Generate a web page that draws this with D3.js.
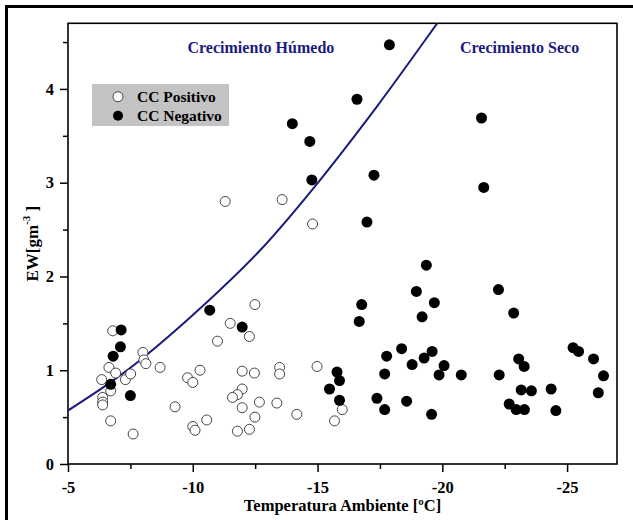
<!DOCTYPE html>
<html>
<head>
<meta charset="utf-8">
<script src="https://cdn.jsdelivr.net/npm/d3@7"></script>
<style>
  body { margin: 0; background: #fff; }
  svg { display: block; font-family: "Liberation Serif", "Times New Roman", serif; }
</style>
</head>
<body>
<div id="grafico"></div>
<script>
// Datos
const posTemp = [-6.79, -6.64, -6.91, -6.35, -6.71, -6.39, -6.39, -6.39, -6.71, -7.61,
  -7.30, -7.51, -8.00, -8.04, -8.12, -8.69, -9.29, -9.79, -10.00, -10.29,
  -10.00, -10.09, -10.56, -12.49, -11.50, -12.27, -10.99, -11.98, -12.47, -13.48,
  -13.48, -14.98, -11.98, -11.79, -11.59, -11.98, -12.67, -13.37, -12.49, -14.17,
  -11.79, -12.27, -15.99, -15.68, -11.30, -13.58, -14.80];
const posEW = [1.42, 1.03, 0.97, 0.90, 0.78, 0.71, 0.66, 0.63, 0.46, 0.32,
  0.90, 0.96, 1.19, 1.11, 1.07, 1.03, 0.61, 0.92, 0.87, 1.00,
  0.40, 0.36, 0.47, 1.70, 1.50, 1.36, 1.31, 0.99, 0.97, 1.03,
  0.96, 1.04, 0.80, 0.74, 0.71, 0.60, 0.66, 0.65, 0.50, 0.53,
  0.35, 0.37, 0.58, 0.46, 2.80, 2.82, 2.56];

const negTemp = [-7.13, -7.10, -6.81, -6.71, -7.50, -10.68, -11.98, -15.78, -15.88, -15.48,
  -15.88, -17.88, -16.58, -13.99, -14.69, -14.77, -17.26, -16.98, -19.36, -18.96,
  -19.68, -19.19, -16.77, -16.67, -18.37, -17.77, -19.59, -19.27, -18.79, -20.07,
  -17.69, -19.87, -20.76, -17.38, -17.69, -18.57, -19.57, -21.57, -21.66, -22.25,
  -22.86, -25.24, -25.46, -26.06, -26.46, -26.25, -23.06, -23.28, -22.28, -23.16,
  -23.57, -24.36, -22.68, -22.96, -23.29, -24.55];
const negEW = [1.43, 1.25, 1.15, 0.85, 0.73, 1.64, 1.46, 0.98, 0.89, 0.80,
  0.68, 4.47, 3.89, 3.63, 3.44, 3.03, 3.08, 2.58, 2.12, 1.84,
  1.72, 1.57, 1.70, 1.52, 1.23, 1.15, 1.20, 1.13, 1.06, 1.05,
  0.96, 0.95, 0.95, 0.70, 0.58, 0.67, 0.53, 3.69, 2.95, 1.86,
  1.61, 1.24, 1.20, 1.12, 0.94, 0.76, 1.12, 1.04, 0.95, 0.79,
  0.78, 0.80, 0.64, 0.58, 0.58, 0.57];

// curva de separacion (puntos leidos sobre la linea)
const curvaTemp = [-5, -6.7, -8, -10.3, -12.7, -14.8, -17.4, -19.85, -20.2];
const curvaEW = [0.57, 0.87, 1.13, 1.66, 2.28, 2.93, 3.82, 4.72, 4.85];

const ticksX = [-5, -10, -15, -20, -25];
const ticksXMenores = [-7.5, -12.5, -17.5, -22.5];
const ticksY = [0, 1, 2, 3, 4];
const ticksYMenores = [0.5, 1.5, 2.5, 3.5, 4.5];

const series = ["CC Positivo", "CC Negativo"];
const regiones = ["Crecimiento Húmedo", "Crecimiento Seco"];

// Dimensiones
const ancho = 633;
const alto = 520;
const margen = { superior: 23.3, derecho: 16, inferior: 56, izquierdo: 68 };
const azul = "#1b1b7e";

const svg = d3.select("#grafico")
  .append("svg")
  .attr("width", ancho)
  .attr("height", alto);

// marco exterior
svg.append("line").attr("x1", 5).attr("x2", ancho).attr("y1", 6.5).attr("y2", 6.5)
  .attr("stroke", "#000").attr("stroke-width", 3);
svg.append("line").attr("x1", 6.5).attr("x2", 6.5).attr("y1", 5).attr("y2", alto)
  .attr("stroke", "#000").attr("stroke-width", 3);

const escalaX = d3.scaleLinear()
  .domain([-5, -27])
  .range([margen.izquierdo, ancho - margen.derecho]);

const escalaY = d3.scaleLinear()
  .domain([0, 4.7])
  .range([alto - margen.inferior, margen.superior]);

const x0 = escalaX.range()[0], x1 = escalaX.range()[1];
const y0 = escalaY.range()[0], y1 = escalaY.range()[1];

svg.append("clipPath").attr("id", "recorte")
  .append("rect")
  .attr("x", x0).attr("y", y1)
  .attr("width", x1 - x0).attr("height", y0 - y1);

// Ejes
const formato = d => String(d);

function estiloEje(g) {
  g.select(".domain").remove();
  g.selectAll("line").attr("stroke", "#000").attr("stroke-width", 1.5);
  g.selectAll("text")
    .attr("font-family", "Liberation Serif, serif")
    .attr("font-weight", "bold")
    .attr("font-size", 16.5)
    .attr("fill", "#000");
}

svg.append("g")
  .attr("transform", `translate(0,${y0})`)
  .call(d3.axisBottom(escalaX).tickValues(ticksX).tickSize(8).tickPadding(9).tickFormat(formato))
  .call(estiloEje);
svg.append("g")
  .attr("transform", `translate(0,${y0})`)
  .call(d3.axisBottom(escalaX).tickValues(ticksXMenores).tickSize(5).tickFormat(""))
  .call(estiloEje);

svg.append("g")
  .attr("transform", `translate(${x0},0)`)
  .call(d3.axisLeft(escalaY).tickValues(ticksY).tickSize(8).tickPadding(6).tickFormat(formato))
  .call(estiloEje);
svg.append("g")
  .attr("transform", `translate(${x0},0)`)
  .call(d3.axisLeft(escalaY).tickValues(ticksYMenores).tickSize(5).tickFormat(""))
  .call(estiloEje);

// recuadro del area de datos
svg.append("rect")
  .attr("x", x0).attr("y", y1)
  .attr("width", x1 - x0).attr("height", y0 - y1)
  .attr("fill", "none")
  .attr("stroke", "#000")
  .attr("stroke-width", 1.6);

// Curva
const linea = d3.line()
  .x(i => escalaX(curvaTemp[i]))
  .y(i => escalaY(curvaEW[i]))
  .curve(d3.curveCatmullRom.alpha(0.5));

svg.append("path")
  .attr("d", linea(d3.range(curvaTemp.length)))
  .attr("clip-path", "url(#recorte)")
  .attr("fill", "none")
  .attr("stroke", azul)
  .attr("stroke-width", 2);

// Puntos
const puntos = svg.append("g").attr("clip-path", "url(#recorte)");

puntos.selectAll(".positivo")
  .data(d3.range(posTemp.length))
  .enter()
  .append("circle")
  .attr("class", "positivo")
  .attr("cx", i => escalaX(posTemp[i]))
  .attr("cy", i => escalaY(posEW[i]))
  .attr("r", 5)
  .attr("fill", "#fff")
  .attr("stroke", "#444")
  .attr("stroke-width", 1);

puntos.selectAll(".negativo")
  .data(d3.range(negTemp.length))
  .enter()
  .append("circle")
  .attr("class", "negativo")
  .attr("cx", i => escalaX(negTemp[i]))
  .attr("cy", i => escalaY(negEW[i]))
  .attr("r", 5.5)
  .attr("fill", "#000");

// Textos de regiones
svg.append("text")
  .attr("x", 187.5).attr("y", 53)
  .attr("font-weight", "bold").attr("font-size", 16)
  .attr("fill", azul)
  .text(regiones[0]);
svg.append("text")
  .attr("x", 460).attr("y", 53)
  .attr("font-weight", "bold").attr("font-size", 16)
  .attr("fill", azul)
  .text(regiones[1]);

// Leyenda
const leyenda = svg.append("g");
leyenda.append("rect")
  .attr("x", 92).attr("y", 84)
  .attr("width", 137).attr("height", 42)
  .attr("fill", "#c3c3c3");

series.forEach((s, i) => {
  leyenda.append("circle")
    .attr("cx", 118).attr("cy", 96.7 + i * 19)
    .attr("r", 5)
    .attr("fill", i === 0 ? "#fff" : "#000")
    .attr("stroke", i === 0 ? "#444" : "none");
  leyenda.append("text")
    .attr("x", 137).attr("y", 102 + i * 19)
    .attr("font-weight", "bold").attr("font-size", 15.5)
    .attr("fill", "#000")
    .text(s);
});

// Titulos de ejes
svg.append("text")
  .attr("x", (x0 + x1) / 2).attr("y", 511)
  .attr("text-anchor", "middle")
  .attr("font-weight", "bold").attr("font-size", 16.5)
  .attr("fill", "#000")
  .text("Temperatura Ambiente [ºC]");

const tituloY = svg.append("text")
  .attr("transform", `translate(38,${(y0 + y1) / 2}) rotate(-90)`)
  .attr("text-anchor", "middle")
  .attr("font-weight", "bold").attr("font-size", 17)
  .attr("fill", "#000");
tituloY.append("tspan").text("EW[gm");
tituloY.append("tspan").attr("dy", -8).attr("font-size", 11).text("-3");
tituloY.append("tspan").attr("dy", 8).text(" ]");
</script>
</body>
</html>
